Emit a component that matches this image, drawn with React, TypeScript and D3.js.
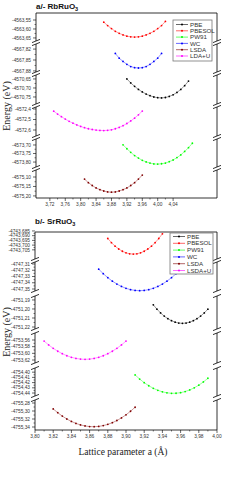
import * as d3 from "d3";

const W = 242;
const H = 480;

const rbMethods = ["PBE", "PBESOL", "PW91", "WC", "LSDA", "LDA+U"];
const srMethods = ["PBE", "PBESOL", "PW91", "WC", "LSDA", "LSDA+U"];
const methodColors = ["#000000", "#ff0000", "#00ff00", "#0000ff", "#800000", "#ff00ff"];

// a/- RbRuO3 : lattice parameter (Å) and total energy (eV)
const rbPbeA = [3.92, 3.93, 3.94, 3.95, 3.96, 3.97, 3.98, 3.99, 4.0, 4.01, 4.02, 4.03, 4.04, 4.05, 4.06, 4.07, 4.08];
const rbPbeE = [-4570.65, -4570.672, -4570.691, -4570.708, -4570.722, -4570.734, -4570.743, -4570.75, -4570.754, -4570.755, -4570.753, -4570.747, -4570.738, -4570.725, -4570.708, -4570.687, -4570.662];
const rbPbesolA = [3.86, 3.87, 3.88, 3.89, 3.9, 3.91, 3.92, 3.93, 3.94, 3.95, 3.96, 3.97, 3.98, 3.99, 4.0, 4.01, 4.02];
const rbPbesolE = [-4563.562, -4563.581, -4563.598, -4563.613, -4563.624, -4563.633, -4563.64, -4563.644, -4563.645, -4563.644, -4563.64, -4563.633, -4563.624, -4563.613, -4563.598, -4563.581, -4563.558];
const rbPw91A = [3.91, 3.92, 3.93, 3.94, 3.95, 3.96, 3.97, 3.98, 3.99, 4.0, 4.01, 4.02, 4.03, 4.04, 4.05, 4.06, 4.07, 4.08, 4.09];
const rbPw91E = [-4573.699, -4573.722, -4573.743, -4573.762, -4573.777, -4573.79, -4573.799, -4573.806, -4573.811, -4573.812, -4573.81, -4573.806, -4573.798, -4573.788, -4573.774, -4573.758, -4573.738, -4573.716, -4573.69];
const rbWcA = [3.89, 3.9, 3.91, 3.92, 3.93, 3.94, 3.95, 3.96, 3.97, 3.98, 3.99, 4.0, 4.01];
const rbWcE = [-4567.832, -4567.845, -4567.854, -4567.862, -4567.868, -4567.871, -4567.872, -4567.871, -4567.868, -4567.862, -4567.854, -4567.845, -4567.832];
const rbLsdaA = [3.81, 3.82, 3.83, 3.84, 3.85, 3.86, 3.87, 3.88, 3.89, 3.9, 3.91, 3.92, 3.93, 3.94, 3.95, 3.96];
const rbLsdaE = [-4575.111, -4575.13, -4575.145, -4575.158, -4575.167, -4575.174, -4575.179, -4575.18, -4575.179, -4575.174, -4575.167, -4575.158, -4575.145, -4575.13, -4575.111, -4575.09];
const rbLdauA = [3.73, 3.74, 3.75, 3.76, 3.77, 3.78, 3.79, 3.8, 3.81, 3.82, 3.83, 3.84, 3.85, 3.86, 3.87, 3.88, 3.89, 3.9, 3.91, 3.92, 3.93, 3.94, 3.95, 3.96];
const rbLdauE = [-4572.421, -4572.448, -4572.473, -4572.496, -4572.517, -4572.535, -4572.552, -4572.566, -4572.578, -4572.588, -4572.595, -4572.601, -4572.604, -4572.605, -4572.603, -4572.598, -4572.588, -4572.575, -4572.559, -4572.538, -4572.514, -4572.487, -4572.455, -4572.42];

// b/- SrRuO3
const srPbeA = [3.93, 3.934, 3.938, 3.942, 3.946, 3.95, 3.954, 3.958, 3.962, 3.966, 3.97, 3.974, 3.978, 3.982, 3.986, 3.99];
const srPbeE = [-4751.1954, -4751.2002, -4751.2044, -4751.2079, -4751.2108, -4751.213, -4751.2146, -4751.2156, -4751.2159, -4751.2156, -4751.2146, -4751.213, -4751.2108, -4751.2079, -4751.2044, -4751.2002];
const srPbesolA = [3.88, 3.884, 3.888, 3.892, 3.896, 3.9, 3.904, 3.908, 3.912, 3.916, 3.92, 3.924, 3.928, 3.932, 3.936, 3.94];
const srPbesolE = [-4743.693, -4743.6974, -4743.7011, -4743.7041, -4743.7065, -4743.7082, -4743.7092, -4743.7095, -4743.7092, -4743.7082, -4743.7065, -4743.7041, -4743.7011, -4743.6974, -4743.693, -4743.688];
const srPw91A = [3.91, 3.915, 3.92, 3.925, 3.93, 3.935, 3.94, 3.945, 3.95, 3.955, 3.96, 3.965, 3.97, 3.975, 3.98, 3.985, 3.99];
const srPw91E = [-4754.4053, -4754.4132, -4754.4201, -4754.426, -4754.4309, -4754.4348, -4754.4377, -4754.4396, -4754.4405, -4754.4404, -4754.4393, -4754.4372, -4754.4341, -4754.43, -4754.4249, -4754.4188, -4754.4117];
const srWcA = [3.87, 3.875, 3.88, 3.885, 3.89, 3.895, 3.9, 3.905, 3.91, 3.915, 3.92, 3.925, 3.93, 3.935, 3.94, 3.945, 3.95, 3.955, 3.96];
const srWcE = [-4747.3183, -4747.3255, -4747.3319, -4747.3374, -4747.3421, -4747.3459, -4747.3489, -4747.351, -4747.3523, -4747.3527, -4747.3523, -4747.351, -4747.3489, -4747.3459, -4747.3421, -4747.3374, -4747.3319, -4747.3255, -4747.3183];
const srLsdaA = [3.82, 3.825, 3.83, 3.835, 3.84, 3.845, 3.85, 3.855, 3.86, 3.865, 3.87, 3.875, 3.88, 3.885, 3.89, 3.895, 3.9, 3.905, 3.91];
const srLsdaE = [-4755.2948, -4755.3043, -4755.3127, -4755.32, -4755.3261, -4755.331, -4755.3348, -4755.3374, -4755.3389, -4755.3393, -4755.3385, -4755.3365, -4755.3334, -4755.3292, -4755.3238, -4755.3172, -4755.3095, -4755.3006, -4755.2906];
const srLdauA = [3.81, 3.815, 3.82, 3.825, 3.83, 3.835, 3.84, 3.845, 3.85, 3.855, 3.86, 3.865, 3.87, 3.875, 3.88, 3.885, 3.89, 3.895, 3.9];
const srLdauE = [-4753.5633, -4753.5748, -4753.5849, -4753.5937, -4753.6011, -4753.6072, -4753.6119, -4753.6153, -4753.6173, -4753.618, -4753.6173, -4753.6153, -4753.6119, -4753.6072, -4753.6011, -4753.5937, -4753.5849, -4753.5748, -4753.5633];

// broken y axis: one segment per method, top to bottom
const rbOrder = [1, 3, 0, 5, 2, 4];
const rbSegDomains = [[-4563.667, -4563.511], [-4567.883, -4567.806], [-4570.789, -4570.628], [-4572.657, -4572.381], [-4573.829, -4573.665], [-4575.211, -4575.063]];
const rbSegTicks = [[-4563.55, -4563.6, -4563.65], [-4567.82, -4567.85, -4567.88], [-4570.65, -4570.7, -4570.75], [-4572.4, -4572.5, -4572.6], [-4573.7, -4573.75, -4573.8], [-4575.1, -4575.15, -4575.2]];
const rbSegFormats = [".2f", ".2f", ".2f", ".1f", ".2f", ".2f"];
const rbXDomain = [3.684, 4.154];
const rbXTicks = [3.72, 3.76, 3.8, 3.84, 3.88, 3.92, 3.96, 4.0, 4.04];

const srOrder = [1, 3, 0, 5, 2, 4];
const srSegDomains = [[-4743.7147, -4743.6861], [-4747.3532, -4747.3068], [-4751.2222, -4751.1856], [-4753.629, -4753.539], [-4754.4457, -4754.392], [-4755.3475, -4755.2725]];
const srSegTicks = [[-4743.685, -4743.69, -4743.695, -4743.7, -4743.705], [-4747.31, -4747.32, -4747.33, -4747.34, -4747.35], [-4751.19, -4751.2, -4751.21, -4751.22], [-4753.56, -4753.58, -4753.6, -4753.62], [-4754.4, -4754.41, -4754.42, -4754.43, -4754.44], [-4755.28, -4755.3, -4755.32, -4755.34]];
const srSegFormats = [".3f", ".2f", ".2f", ".2f", ".2f", ".2f"];
const srXDomain = [3.8, 4.0];
const srXTicks = [3.8, 3.82, 3.84, 3.86, 3.88, 3.9, 3.92, 3.94, 3.96, 3.98, 4.0];

const loc = d3.formatLocale({ decimal: ",", thousands: "", grouping: [3], currency: ["", ""], minus: "-" });

const sans = "Liberation Sans, Arial, sans-serif";
const serif = "Liberation Serif, Times New Roman, serif";

function Slash({ x, y }) {
  return <line x1={x - 4} y1={y + 1.6} x2={x + 4} y2={y - 1.6} stroke="#000" strokeWidth={0.8} />;
}

function Panel({ title, left, right, top, bottom, segPx, segDomains, segTicks, segFormats, order, xs, ys, xDomain, xTicks, xFmt, methods, legend, titleY, eLabelY }) {
  const x = d3.scaleLinear().domain(xDomain).range([left, right]);
  const step = xTicks[1] - xTicks[0];
  const minorX = xTicks.slice(0, -1).map((t) => t + step / 2);
  const nSeg = segPx.length;

  return (
    <g>
      <text x={left} y={titleY} fontFamily={sans} fontWeight="bold" fontSize={8} fill="#111">
        {title[0]}
        <tspan fontSize={5.5} dy={2}>{title[1]}</tspan>
      </text>
      <text transform={`translate(10,${eLabelY}) rotate(-90)`} textAnchor="middle" fontFamily={serif} fontSize={10} fill="#222">
        Energy (eV)
      </text>
      <line x1={left} x2={right} y1={top} y2={top} stroke="#000" strokeWidth={0.8} />
      <line x1={left} x2={right} y1={bottom} y2={bottom} stroke="#000" strokeWidth={0.8} />
      {segPx.map((px, i) => {
        const y = d3.scaleLinear().domain(segDomains[i]).range([px[1], px[0]]);
        const fmt = loc.format(segFormats[i]);
        const ticks = segTicks[i];
        const minor = ticks.slice(0, -1).map((t, j) => (t + ticks[j + 1]) / 2);
        const m = order[i];
        const pts = xs[m].map((a, j) => [x(a), y(ys[m][j])]);
        const line = d3.line()(pts);
        return (
          <g key={i}>
            <line x1={left} x2={left} y1={px[0]} y2={px[1]} stroke="#000" strokeWidth={0.8} />
            <line x1={right} x2={right} y1={px[0]} y2={px[1]} stroke="#000" strokeWidth={0.8} />
            {ticks.map((t) => (
              <g key={t}>
                <line x1={left - 3} x2={left} y1={y(t)} y2={y(t)} stroke="#000" strokeWidth={0.6} />
                <text x={left - 5} y={y(t)} dy="0.35em" textAnchor="end" fontFamily={sans} fontSize={4.8} fill="#333">
                  {fmt(t)}
                </text>
              </g>
            ))}
            {minor.map((t) => (
              <line key={t} x1={left - 1.5} x2={left} y1={y(t)} y2={y(t)} stroke="#000" strokeWidth={0.5} />
            ))}
            {i > 0 && <Slash x={left} y={px[0]} />}
            {i > 0 && <Slash x={right} y={px[0]} />}
            {i < nSeg - 1 && <Slash x={left} y={px[1]} />}
            {i < nSeg - 1 && <Slash x={right} y={px[1]} />}
            <path d={line} fill="none" stroke={methodColors[m]} strokeWidth={0.5} strokeOpacity={0.8} />
            {pts.map((p, j) => (
              <circle key={j} cx={p[0]} cy={p[1]} r={0.9} fill={methodColors[m]} />
            ))}
          </g>
        );
      })}
      {xTicks.map((t) => (
        <g key={t}>
          <line x1={x(t)} x2={x(t)} y1={bottom} y2={bottom + 3} stroke="#000" strokeWidth={0.6} />
          <text x={x(t)} y={bottom + 8} textAnchor="middle" fontFamily={sans} fontSize={4.8} fill="#333">
            {loc.format(xFmt)(t)}
          </text>
        </g>
      ))}
      {minorX.map((t) => (
        <line key={t} x1={x(t)} x2={x(t)} y1={bottom} y2={bottom + 1.5} stroke="#000" strokeWidth={0.5} />
      ))}
      <rect x={legend.x} y={legend.y} width={legend.w} height={legend.h} fill="#fff" stroke="#777" strokeWidth={0.8} />
      {methods.map((name, i) => {
        const ly = legend.y + legend.pad + i * legend.row;
        return (
          <g key={name}>
            <line x1={legend.x + 3} x2={legend.x + 15} y1={ly} y2={ly} stroke={methodColors[i]} strokeWidth={0.6} />
            <circle cx={legend.x + 9} cy={ly} r={1} fill={methodColors[i]} />
            <text x={legend.x + 17} y={ly} dy="0.35em" fontFamily={sans} fontSize={6.2} fill="#333">
              {name}
            </text>
          </g>
        );
      })}
    </g>
  );
}

export default function App() {
  return (
    <svg width={W} height={H} style={{ position: "absolute", left: 0, top: 0, background: "#fff" }}>
      <Panel
        title={["a/- RbRuO", "3"]}
        titleY={9}
        eLabelY={106}
        left={36}
        right={217}
        top={13}
        bottom={198}
        segPx={[[13, 41], [44, 72], [75, 104], [107, 136], [139, 167], [170, 198]]}
        segDomains={rbSegDomains}
        segTicks={rbSegTicks}
        segFormats={rbSegFormats}
        order={rbOrder}
        xs={[rbPbeA, rbPbesolA, rbPw91A, rbWcA, rbLsdaA, rbLdauA]}
        ys={[rbPbeE, rbPbesolE, rbPw91E, rbWcE, rbLsdaE, rbLdauE]}
        xDomain={rbXDomain}
        xTicks={rbXTicks}
        xFmt=".2f"
        methods={rbMethods}
        legend={{ x: 173, y: 20, w: 39, h: 41, pad: 4.5, row: 6.3 }}
      />
      <Panel
        title={["b/- SrRuO", "3"]}
        titleY={224}
        eLabelY={332}
        left={35}
        right={217}
        top={232}
        bottom={430}
        segPx={[[232, 259], [262, 291], [296, 329], [333, 363], [368, 396], [400, 430]]}
        segDomains={srSegDomains}
        segTicks={srSegTicks}
        segFormats={srSegFormats}
        order={srOrder}
        xs={[srPbeA, srPbesolA, srPw91A, srWcA, srLsdaA, srLdauA]}
        ys={[srPbeE, srPbesolE, srPw91E, srWcE, srLsdaE, srLdauE]}
        xDomain={srXDomain}
        xTicks={srXTicks}
        xFmt=".2f"
        methods={srMethods}
        legend={{ x: 170, y: 233, w: 43, h: 41, pad: 3.5, row: 6.8 }}
      />
      <text x={123} y={455} textAnchor="middle" fontFamily={serif} fontSize={9.5} fill="#222">
        Lattice parameter a (Å)
      </text>
    </svg>
  );
}
